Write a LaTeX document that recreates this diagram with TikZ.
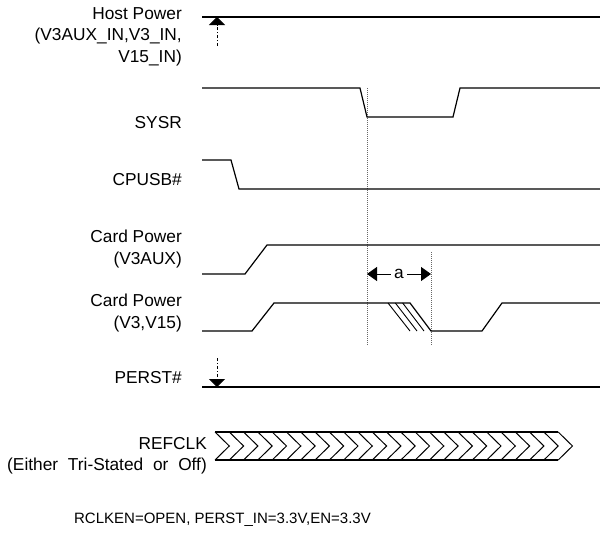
\documentclass[tikz,border=0pt]{standalone}
\usepackage{fontspec}
\setmainfont{Liberation Sans}
\usetikzlibrary{arrows.meta,positioning}

\tikzset{
  wave/.style={line width=1.2pt, line join=miter},
  siglabel/.style={anchor=east, align=right, inner sep=0pt, font=\fontsize{17.3}{21.5}\selectfont},
  marker/.style={line width=0.9pt, dash pattern=on 3pt off 2pt on 1pt off 2pt,
    -{Triangle[width=16pt,length=8pt]}},
  guide/.style={black!60, line width=0.9pt, dash pattern=on 1pt off 1pt},
  dimline/.style={line width=1pt, {Triangle[width=14pt,length=10pt]}-{Triangle[width=14pt,length=10pt]}},
}

\begin{document}
\begin{tikzpicture}[x=1pt,y=-1pt]
\useasboundingbox (0,0) rectangle (600,533);

% Labels
\node[siglabel] (host) at (182,36.5) {Host Power\\(V3AUX\_IN,V3\_IN,\\V15\_IN)};
\node[siglabel] (sysr) at (182,123) {SYSR};
\node[siglabel] (cpusb) at (182,180) {CPUSB\#};
\node[siglabel] (aux) at (182,249) {Card Power\\(V3AUX)};
\node[siglabel] (main) at (182,313) {Card Power\\(V3,V15)};
\node[siglabel] (perst) at (182,378) {PERST\#};
\node[siglabel] (refclk) at (207,455.5) {REFCLK\\(Either\hspace{5pt} Tri-Stated\hspace{5pt} or\hspace{5pt} Off)};
\node[font=\fontsize{15}{17}\selectfont, inner sep=0pt] (cond) at (222.5,520) {RCLKEN=OPEN, PERST\_IN=3.3V,EN=3.3V};

% Guide lines
\coordinate (tfall) at (367,88);
\coordinate (toff) at (431,252);
\draw[guide] (tfall) -- (367,345);
\draw[guide] (toff) -- (431,345);

% Host Power
\draw[wave] (202,17) -- (600,17);
\coordinate (hostup) at (217,46);
\draw[marker] (hostup) -- (217,17);

% SYSR
\draw[wave] (202,88) -- (360,88) -- (367,117) -- (453,117) -- (460,88) -- (600,88);

% CPUSB#
\draw[wave] (202,160) -- (231,160) -- (239,189) -- (600,189);

% Card Power (V3AUX)
\draw[wave] (202,274) -- (245,274) -- (267,245) -- (600,245);

% Card Power (V3,V15)
\draw[wave] (202,331) -- (252,331) -- (274,303) -- (410,303) -- (431,331)
  -- (482,331) -- (502,303) -- (600,303);
\foreach \k in {0,1,2}
  \draw[line width=0.9pt] (388+7.33*\k,303) -- (410+7*\k,331);

% Time a
\coordinate (aleft) at (367,274);
\coordinate (aright) at (431,274);
\draw[dimline] (aleft) -- node[fill=white, inner sep=3pt, font=\fontsize{17.3}{20}\selectfont] (alabel) {a} (aright);

% PERST#
\draw[wave] (202,387) -- (600,387);
\coordinate (perstdn) at (217,358);
\draw[marker] (perstdn) -- (217,387);

% REFCLK
\draw[wave] (215,432) -- (558.2,432);
\draw[wave] (215,460) -- (558.2,460);
\foreach \i in {0,...,24}
  \draw[line width=1pt] (215+14.3*\i,432) -- (229.3+14.3*\i,446) -- (215+14.3*\i,460);

\end{tikzpicture}
\end{document}
